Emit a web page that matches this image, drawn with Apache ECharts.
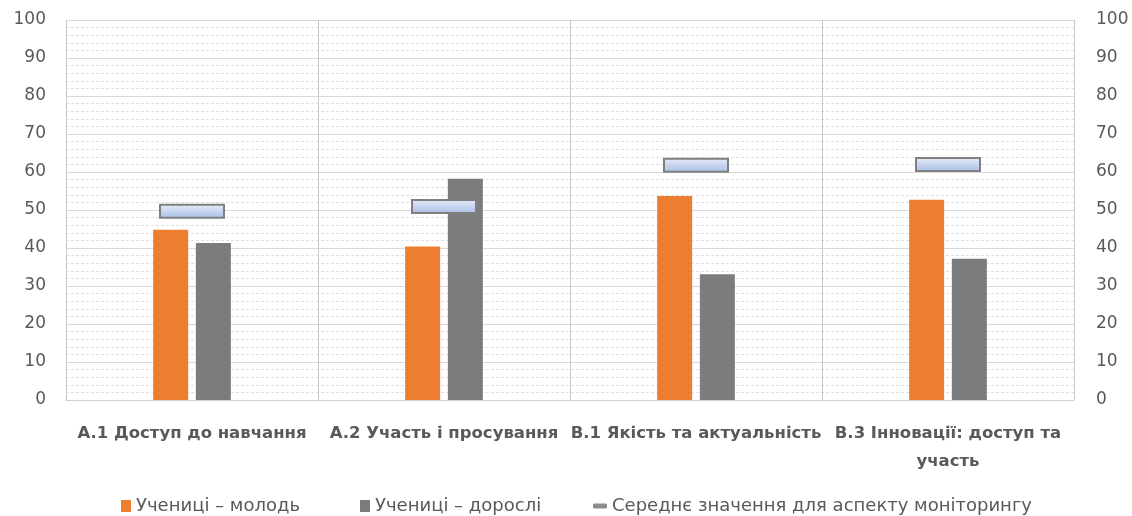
<!DOCTYPE html>
<html><head><meta charset="utf-8">
<script src="https://cdn.jsdelivr.net/npm/echarts@6/dist/echarts.min.js"></script>
<style>html,body{margin:0;padding:0;background:#fff}#c{width:1132px;height:516px}</style>
</head><body><div id="c"></div>
<script>
const categories = ['A.1 Доступ до навчання', 'A.2 Участь і просування', 'B.1 Якість та актуальність', 'B.3 Інновації: доступ та\nучасть'];
const youth = [44.8, 40.4, 53.7, 52.7];
const adults = [41.3, 58.2, 33.1, 37.2];
const average = [49.7, 50.9, 61.8, 62.0];
const yTicks = [0, 10, 20, 30, 40, 50, 60, 70, 80, 90, 100];
const seriesNames = ['Учениці – молодь', 'Учениці – дорослі', 'Середнє значення для аспекту моніторингу'];

const font = '"DejaVu Sans", sans-serif';
const chart = echarts.init(document.getElementById('c'));
const yAxisCommon = {
  type: 'value', min: yTicks[0], max: yTicks[yTicks.length - 1], interval: 10,
  axisLine: { show: false }, axisTick: { show: false },
  axisLabel: { color: '#595959', fontSize: 17, fontFamily: font }
};
const legendText = { color: '#595959', fontSize: 18, fontFamily: font };
chart.setOption({
  animation: false,
  textStyle: { fontFamily: font },
  grid: { left: 66, right: 58, top: 20, bottom: 116 },
  xAxis: {
    type: 'category', data: categories,
    axisLine: { lineStyle: { color: '#d0d0d0' } },
    axisTick: { show: false },
    splitLine: { show: true, lineStyle: { color: '#c8c8c8', width: 1 } },
    axisLabel: { color: '#595959', fontSize: 16.5, fontWeight: 'bold', margin: 20, lineHeight: 28, interval: 0, fontFamily: font }
  },
  yAxis: [
    Object.assign({}, yAxisCommon, {
      position: 'left', axisLabel: Object.assign({}, yAxisCommon.axisLabel, { margin: 20 }),
      splitLine: { show: true, lineStyle: { color: '#d9d9d9', width: 1 } },
      minorTick: { show: false, splitNumber: 5 },
      minorSplitLine: { show: true, lineStyle: { color: '#e0e0e0', type: [3, 2], width: 1 } }
    }),
    Object.assign({}, yAxisCommon, {
      position: 'right', axisLabel: Object.assign({}, yAxisCommon.axisLabel, { margin: 22 }),
      splitLine: { show: false }
    })
  ],
  legend: [
    {
      top: 497, left: 121, itemGap: 60, itemWidth: 10, itemHeight: 12, padding: 0,
      textStyle: legendText,
      data: [{ name: seriesNames[0], icon: 'rect' }, { name: seriesNames[1], icon: 'rect' }]
    },
    {
      top: 497, left: 593, itemWidth: 14, itemHeight: 5, padding: 0,
      textStyle: legendText,
      data: [{ name: seriesNames[2], icon: 'roundRect', itemStyle: { color: '#8c8c8c', borderWidth: 0 } }]
    }
  ],
  series: [
    { name: seriesNames[0], type: 'bar', data: youth, barWidth: 35, barGap: '22%', itemStyle: { color: '#ED7D31' } },
    { name: seriesNames[1], type: 'bar', data: adults, barWidth: 35, barGap: '22%', itemStyle: { color: '#7c7c7c' } },
    {
      name: seriesNames[2], type: 'custom', data: average.map((v, i) => [i, v]),
      itemStyle: { color: '#8c8c8c' },
      z: 5,
      renderItem: function (params, api) {
        const p = api.coord([api.value(0), api.value(1)]);
        const w = 64, h = 13;
        return {
          type: 'rect',
          shape: { x: p[0] - w / 2, y: p[1] - h / 2, width: w, height: h },
          style: {
            fill: new echarts.graphic.LinearGradient(0, 0, 0, 1, [
              { offset: 0, color: '#e8eef8' }, { offset: 1, color: '#a7bde6' }
            ]),
            stroke: '#7f7f7f', lineWidth: 2
          }
        };
      }
    }
  ]
});
</script></body></html>
